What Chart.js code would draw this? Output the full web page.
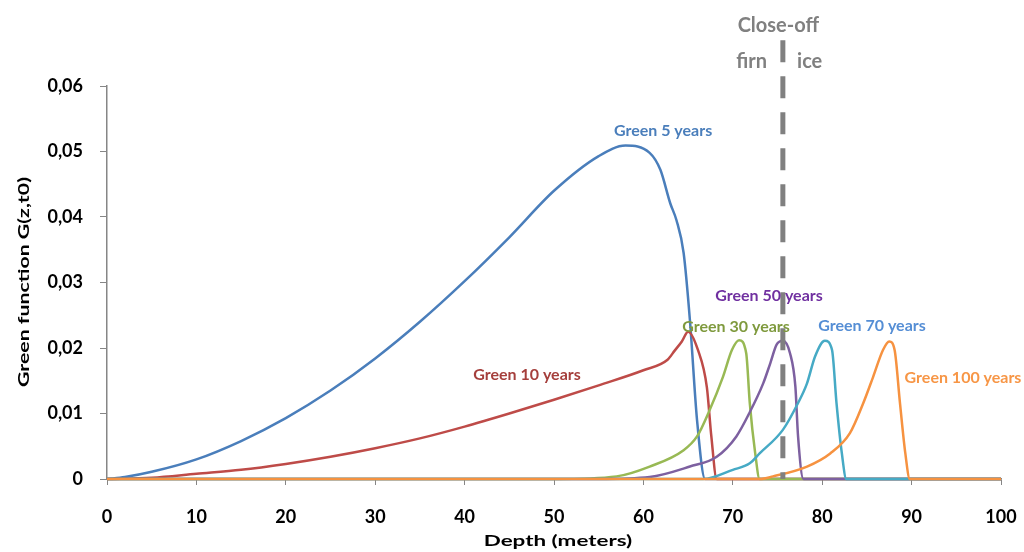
<!DOCTYPE html>
<html>
<head>
<meta charset="utf-8">
<script src="https://cdn.jsdelivr.net/npm/chart.js@4"></script>
<style>
html,body{margin:0;padding:0;background:#fff;}
#wrap{width:1024px;height:552px;position:relative;}
</style>
</head>
<body>
<div id="wrap"><canvas id="c" width="1024" height="552"></canvas></div>
<script>
// ---- data ----
const depth5 = [0, 2, 5, 10, 15, 20, 25, 30, 35, 40, 45, 50, 55, 58, 60.7, 61.9, 63, 63.7, 64.5, 65.2, 66, 66.9, 70, 80, 90, 100];
const g5     = [0, 0.0003, 0.0011, 0.003, 0.0058, 0.0093, 0.0135, 0.0184, 0.024, 0.0302, 0.0369, 0.044, 0.0493, 0.0509, 0.0498, 0.0472, 0.0421, 0.0395, 0.0345, 0.0243, 0.009, 0, 0, 0, 0, 0];

const depth10 = [0, 5, 10, 15, 20, 25, 30, 35, 40, 45, 50, 55, 60, 62.7, 63.5, 64.3, 65.0, 66.1, 67.1, 67.6, 68.2, 70, 80, 90, 100];
const g10     = [0, 0.0002, 0.0008, 0.0014, 0.0023, 0.0034, 0.0047, 0.0062, 0.008, 0.01, 0.0121, 0.0143, 0.0166, 0.0182, 0.0196, 0.021, 0.0225, 0.0197, 0.014, 0.0065, 0, 0, 0, 0, 0];

const depth30 = [0, 50, 57, 60.7, 64.5, 66, 67.4, 68.9, 69.9, 70.7, 71.5, 71.9, 72.5, 73, 80, 90, 100];
const g30     = [0, 0, 0.0004, 0.0019, 0.0044, 0.0065, 0.0105, 0.0156, 0.0197, 0.0212, 0.0192, 0.0116, 0.004, 0, 0, 0, 0];

const depth50 = [0, 55, 60.7, 65.2, 68.2, 70.4, 71.9, 73.4, 74.2, 74.9, 75.6, 76.4, 77.0, 77.3, 77.9, 80, 90, 100];
const g50     = [0, 0, 0.0003, 0.0019, 0.0034, 0.0065, 0.0102, 0.0146, 0.0177, 0.0205, 0.0211, 0.0192, 0.0141, 0.0065, 0, 0, 0, 0];

const depth70 = [0, 66.7, 70, 71.9, 73, 75.6, 77.3, 78.3, 79.2, 80.3, 81.1, 81.6, 82.2, 82.7, 90, 100];
const g70     = [0, 0, 0.0014, 0.0024, 0.0039, 0.0075, 0.0116, 0.0146, 0.0187, 0.0211, 0.0197, 0.0116, 0.0039, 0, 0, 0];

const depth100 = [0, 73, 74.5, 78.3, 80.9, 83.1, 84.6, 85.7, 86.8, 87.5, 88.1, 88.7, 89.3, 89.8, 95, 100];
const g100     = [0, 0, 0.0004, 0.0019, 0.0039, 0.007, 0.0116, 0.0156, 0.0197, 0.021, 0.0197, 0.0116, 0.0039, 0, 0, 0];

const closeOffDepth = 75.6;
const closeOffTop = 0.067;

const seriesNames = ['Green 5 years', 'Green 10 years', 'Green 30 years', 'Green 50 years', 'Green 70 years', 'Green 100 years'];
const xTicks = [0, 10, 20, 30, 40, 50, 60, 70, 80, 90, 100];
const yTicks = [0, 0.01, 0.02, 0.03, 0.04, 0.05, 0.06];
const xTitle = 'Depth (meters)';
const yTitle = 'Green function G(z,t0)';

// label anchor positions (data units) and styling
const labelPos = [
  {text: 'Green 5 years',   x: 62.2,  y: 0.0531, color: '#4a7ebb'},
  {text: 'Green 10 years',  x: 46.98, y: 0.0159, color: '#a53f3c'},
  {text: 'Green 50 years',  x: 74.05, y: 0.0279, color: '#7030a0'},
  {text: 'Green 30 years',  x: 70.36, y: 0.0232, color: '#7f9a3e'},
  {text: 'Green 70 years',  x: 85.57, y: 0.0234, color: '#558ed5'},
  {text: 'Green 100 years', x: 95.75, y: 0.0155, color: '#f79646'},
  {text: 'Close-off',       x: 75.1,  y: 0.0692, color: '#808080', size: 20},
  {text: 'firn',            x: 72.1,  y: 0.0637, color: '#808080', size: 20},
  {text: 'ice',             x: 78.6,  y: 0.0637, color: '#808080', size: 20}
];

const FONT = 'Lato, "Open Sans", sans-serif';

function pts(xs, ys) { return xs.map((x, i) => ({x: x, y: ys[i]})); }

const lineColors = ['#4a7ebb', '#be4b48', '#98b954', '#7d60a0', '#46aac5', '#f69240'];
const allX = [depth5, depth10, depth30, depth50, depth70, depth100];
const allY = [g5, g10, g30, g50, g70, g100];

const datasets = allX.map((xs, i) => ({
  label: seriesNames[i],
  data: pts(xs, allY[i]),
  showLine: true,
  borderColor: lineColors[i],
  backgroundColor: lineColors[i],
  borderWidth: 2.5,
  pointRadius: 0,
  cubicInterpolationMode: 'monotone',
  order: 6 - i,
  clip: 4
}));

datasets.push({
  label: 'Close-off',
  data: [{x: closeOffDepth, y: closeOffTop}, {x: closeOffDepth, y: 0}],
  showLine: true,
  borderColor: '#808080',
  borderWidth: 5,
  borderDash: [22, 14],
  borderCapStyle: 'butt',
  pointRadius: 0,
  tension: 0,
  order: 0,
  clip: false
});

const textPlugin = {
  id: 'texts',
  afterDatasetsDraw(chart) {
    const ctx = chart.ctx;
    const xs = chart.scales.x, ys = chart.scales.y;
    ctx.save();
    ctx.textAlign = 'center';
    ctx.textBaseline = 'middle';
    labelPos.forEach(l => {
      ctx.font = 'bold ' + (l.size || 16) + 'px ' + FONT;
      ctx.fillStyle = l.color;
      ctx.fillText(l.text, xs.getPixelForValue(l.x), ys.getPixelForValue(l.y));
    });
    // axis titles (slightly widened like the original)
    ctx.fillStyle = '#000';
    ctx.font = 'bold 16px ' + FONT;
    const cx = (xs.left + xs.right) / 2 + 4;
    ctx.save();
    ctx.translate(cx, 541);
    ctx.scale(1.4, 1);
    ctx.fillText(xTitle, 0, 0);
    ctx.restore();
    ctx.save();
    ctx.translate(24, 282);
    ctx.rotate(-Math.PI / 2);
    ctx.scale(1.33, 1);
    ctx.fillText(yTitle, 0, 0);
    ctx.restore();
    ctx.restore();
  }
};

new Chart(document.getElementById('c'), {
  type: 'scatter',
  data: {datasets: datasets},
  plugins: [textPlugin],
  options: {
    responsive: false,
    animation: false,
    layout: {padding: {top: 86, right: 23, left: 0, bottom: 0}},
    plugins: {legend: {display: false}, tooltip: {enabled: false}},
    scales: {
      x: {
        type: 'linear', min: 0, max: 100,
        afterBuildTicks(s) { s.ticks = xTicks.map(v => ({value: v})); },
        afterFit(s) { s.height = 73; s.paddingLeft = 0; s.paddingRight = 0; },
        grid: {display: true, drawOnChartArea: false, drawTicks: true, tickLength: 6, color: '#868686'},
        border: {display: true, color: '#868686', width: 1.5},
        ticks: {color: '#000', font: {family: FONT, size: 18, weight: 'bold'}, padding: 21, maxRotation: 0},
        title: {display: false}
      },
      y: {
        type: 'linear', min: 0, max: 0.06,
        afterBuildTicks(s) { s.ticks = yTicks.map(v => ({value: v})); },
        afterFit(s) { s.width = 107; s.paddingTop = 0; s.paddingBottom = 0; },
        grid: {display: true, drawOnChartArea: false, drawTicks: true, tickLength: 7, color: '#868686'},
        border: {display: true, color: '#868686', width: 1.5},
        ticks: {color: '#000', font: {family: FONT, size: 18, weight: 'bold'}, padding: 17,
          callback: v => v === 0 ? '0' : v.toFixed(2).replace('.', ',')},
        title: {display: false}
      }
    }
  }
});
</script>
</body>
</html>
